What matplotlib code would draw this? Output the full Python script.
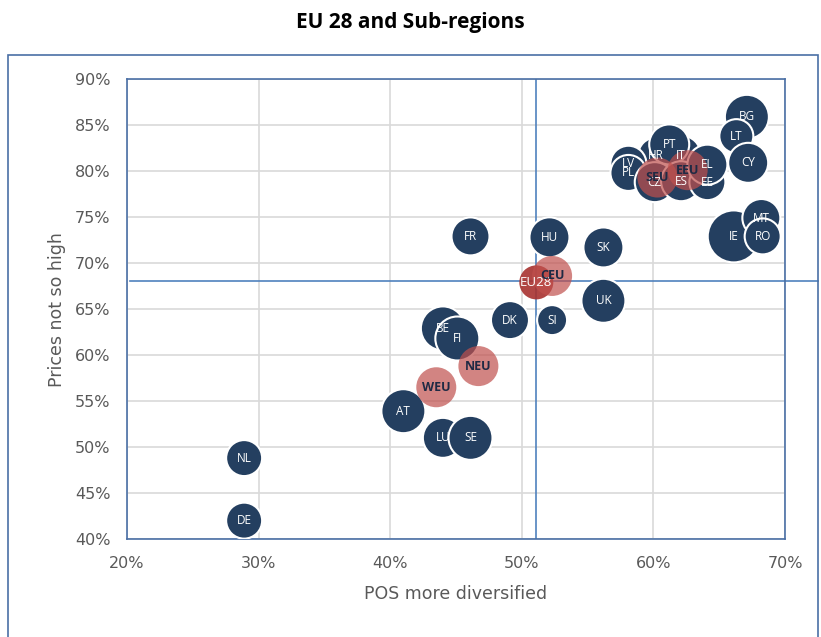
import matplotlib.pyplot as plt
from matplotlib.patches import Rectangle
from matplotlib.ticker import FuncFormatter

# country bubbles (x = POS more diversified %, y = prices not so high %)
countries = ["BG", "LT", "CY", "HR", "IT", "PT", "LV", "PL", "CZ", "ES", "EE", "EL",
             "IE", "MT", "RO", "FR", "HU", "SK", "UK", "DK", "SI", "BE", "FI",
             "AT", "LU", "SE", "NL", "DE"]
cx = [67.1, 66.3, 67.2, 60.2, 62.1, 61.2, 58.1, 58.1, 60.1, 62.1, 64.1, 64.1,
      66.1, 68.2, 68.3, 46.1, 52.1, 56.2, 56.2, 49.1, 52.3, 44.0, 45.1,
      41.0, 44.0, 46.1, 28.9, 28.9]
cy = [85.9, 83.8, 80.9, 81.7, 81.7, 82.9, 80.8, 79.8, 78.8, 78.9, 78.8, 80.7,
      72.9, 74.9, 72.9, 72.9, 72.8, 71.7, 65.9, 63.8, 63.8, 62.9, 61.8,
      53.9, 51.0, 51.0, 48.8, 42.0]
csize = [22, 17, 20, 18, 20, 20, 18, 18, 20, 20, 18, 20,
         26, 19, 18, 19, 20, 20, 22, 19, 15, 22, 22,
         22, 20, 22, 18, 18]

# sub-region bubbles
regions = ["SEU", "EEU", "CEU", "NEU", "WEU"]
rx = [60.3, 62.6, 52.3, 46.7, 43.5]
ry = [79.3, 80.1, 68.6, 58.8, 56.5]
rsize = [20, 20, 20, 20, 20]

eu_x, eu_y, eu_size = 51.1, 67.9, 17

navy = "#243F60"
blue_line = "#4F81BD"
frame_col = "#4A6FA5"

def area(r):
    # bubble radius (px) -> scatter marker area (pt^2)
    return (2 * r * 0.72) ** 2

fig = plt.figure(figsize=(8.21, 6.37), dpi=100)
ax = fig.add_axes([0.1547, 0.1538, 0.8015, 0.722])

ax.set_xlim(20, 70)
ax.set_ylim(40, 90)
ax.set_xticks(range(20, 71, 10))
ax.set_yticks(range(40, 91, 5))
pct = FuncFormatter(lambda v, p: f"{v:.0f}%")
ax.xaxis.set_major_formatter(pct)
ax.yaxis.set_major_formatter(pct)
ax.grid(True, color="#D9D9D9", linewidth=1.2)
ax.set_axisbelow(True)
ax.tick_params(length=0, labelsize=11.5, colors="#595959", pad=12)
for s in ax.spines.values():
    s.set_color(frame_col)
    s.set_linewidth(1.2)

ax.scatter(cx, cy, s=[area(r) for r in csize], color=navy,
           edgecolors="white", linewidths=1.5, zorder=3)
ax.scatter([eu_x], [eu_y], s=[area(eu_size)], color="#A8322F",
           edgecolors="none", alpha=0.9, zorder=4)
ax.scatter(rx, ry, s=[area(r) for r in rsize], color="#C0504D",
           edgecolors="none", alpha=0.7, zorder=4)

for name, x, y in zip(countries, cx, cy):
    ax.text(x, y, name, ha="center", va="center", color="white",
            fontsize=8.5, family="Open Sans", zorder=6)
ax.text(eu_x, eu_y, "EU28", ha="center", va="center", color="white",
        fontsize=9.5, family="Open Sans", zorder=6)
for name, x, y in zip(regions, rx, ry):
    ax.text(x, y, name, ha="center", va="center", color="#1F2A44",
            fontsize=9, fontweight="bold", family="Open Sans", zorder=6)

# EU28 reference lines
ax.plot([eu_x, eu_x], [40, 90], color=blue_line, linewidth=1.2, zorder=2)
ax.plot([20.2, 72.5], [68.1, 68.1], color=blue_line, linewidth=1.2,
        zorder=2, clip_on=False)

ax.set_xlabel("POS more diversified", fontsize=12.5, color="#595959", labelpad=10)
ax.set_ylabel("Prices not so high", fontsize=12.5, color="#595959", labelpad=6)

fig.text(0.5, 0.965, "EU 28 and Sub-regions", ha="center", va="center",
         fontsize=15, fontweight="bold", family="Open Sans")

fig.patches.append(Rectangle((0.01, -0.05), 0.986, 0.9637, transform=fig.transFigure,
                             fill=False, edgecolor=frame_col, linewidth=1.2))

fig.savefig("out.png", dpi=100)
